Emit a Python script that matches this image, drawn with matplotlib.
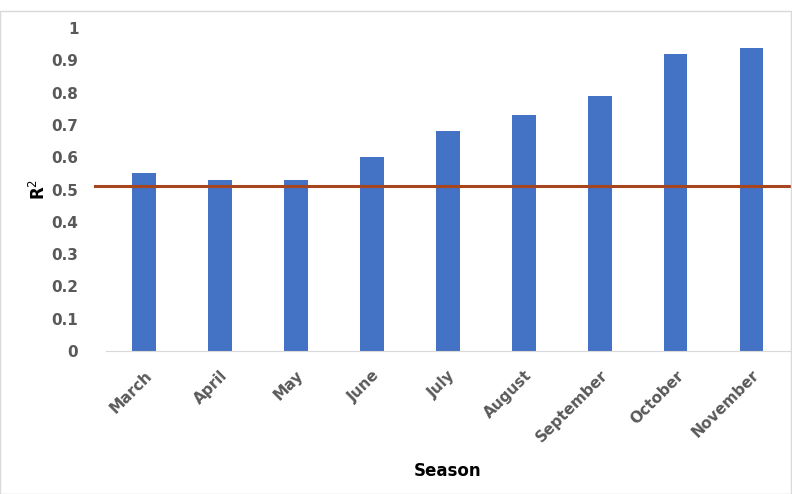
import matplotlib.pyplot as plt
import numpy as np

months = ["March", "April", "May", "June", "July", "August", "September", "October", "November"]
r2 = [0.55, 0.53, 0.53, 0.60, 0.68, 0.73, 0.79, 0.92, 0.94]
threshold = 0.51

fig = plt.figure(figsize=(7.92, 4.94), dpi=100)
ax = fig.add_axes([0.134, 0.2895, 0.863, 0.6535])
x = np.arange(len(months))
ax.bar(x, r2, width=0.31, color="#4472C4", zorder=2)
ax.plot([-0.65, 8.55], [threshold, threshold], color="#A5461E", lw=2.2, clip_on=False, zorder=3)

ax.set_xlim(-0.5, 8.5)
ax.set_ylim(0, 1)
ax.set_yticks(np.arange(0, 1.01, 0.1))
ax.set_yticklabels(["0", "0.1", "0.2", "0.3", "0.4", "0.5", "0.6", "0.7", "0.8", "0.9", "1"])
ax.set_xticks(x)
ax.set_xticklabels(months, rotation=45, ha="right", rotation_mode="anchor")
for lab in ax.get_xticklabels() + ax.get_yticklabels():
    lab.set_fontweight("bold")
    lab.set_color("#595959")
    lab.set_fontsize(11)
ax.tick_params(axis="x", length=0, pad=12)
ax.tick_params(axis="y", length=0, pad=20)
for s in ["top", "right", "left"]:
    ax.spines[s].set_visible(False)
ax.spines["bottom"].set_color("#D9D9D9")
ax.set_xlabel("Season", fontsize=12, fontweight="bold", labelpad=12)
ax.set_ylabel("R$^2$", fontsize=12, fontweight="bold", labelpad=2)
fig.patches.append(plt.Rectangle((0.0, 0.0), 0.999, 0.978, transform=fig.transFigure,
                                 fill=False, edgecolor="#D9D9D9", lw=1))
fig.savefig("out.png")
